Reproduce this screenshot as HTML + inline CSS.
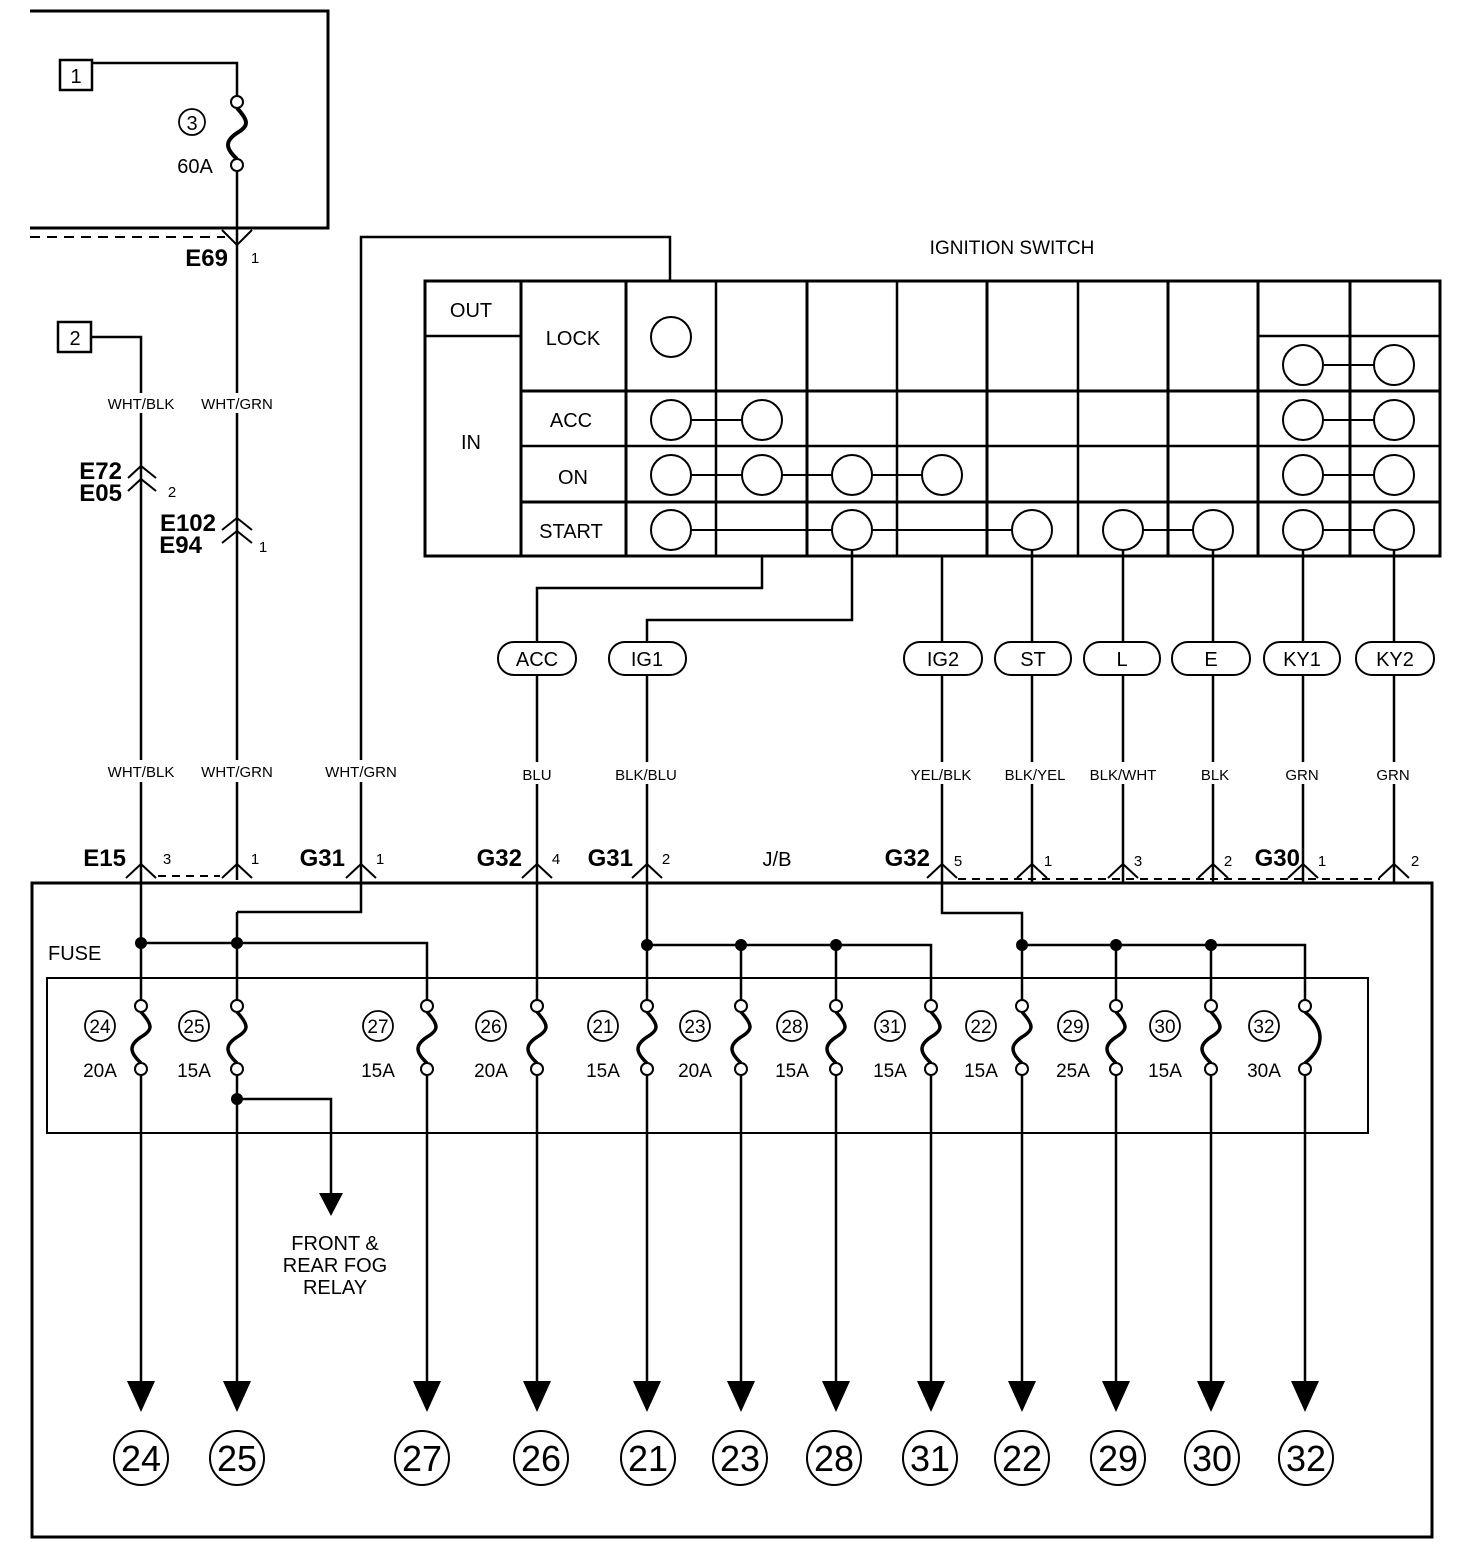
<!DOCTYPE html>
<html><head><meta charset="utf-8"><style>
html,body{margin:0;padding:0;background:#fff}
svg{display:block}
text{font-family:"Liberation Sans",sans-serif;fill:#000}
.b{font-weight:bold;font-size:24px}
.s{font-size:15px}
.m{font-size:20px}
.n{font-size:19px}
</style></head><body>
<svg width="1472" height="1564" viewBox="0 0 1472 1564" xmlns="http://www.w3.org/2000/svg">
<g fill="none" stroke="#000" stroke-width="2.5">
<polyline points="30,11 328,11 328,228 30,228" stroke-width="3"/>
<line x1="30" y1="237" x2="225" y2="237" stroke-dasharray="10,7" stroke-width="2"/>
<rect x="60" y="60" width="32" height="30"/>
<polyline points="92,63 237,63 237,96"/>
<path d="M237,108 C249,121 249,126 237,133 C225,141 225,148 237,159" stroke-width="4"/>
<circle cx="192" cy="122" r="13" stroke-width="1.8"/>
<line x1="237" y1="171" x2="237" y2="393"/>
<line x1="237" y1="413" x2="237" y2="760"/>
<line x1="237" y1="782" x2="237" y2="880"/>
<polyline points="222,230 237,245 252,230" stroke-width="2"/>
<rect x="58" y="322" width="33" height="30"/>
<polyline points="91,337 141,337 141,393"/>
<line x1="141" y1="413" x2="141" y2="760"/>
<line x1="141" y1="782" x2="141" y2="1000"/>
<polyline points="128,478 141,466 156,478" stroke-width="2"/>
<polyline points="128,491 141,479 156,491" stroke-width="2"/>
<polyline points="222,530 237,518 252,530" stroke-width="2"/>
<polyline points="222,543 237,531 252,543" stroke-width="2"/>
<polyline points="361,760 361,237 670,237 670,281"/>
<polyline points="361,782 361,912 237,912"/>
<rect x="425" y="281" width="1015" height="275" stroke-width="3"/>
<line x1="425" y1="336" x2="521" y2="336"/>
<line x1="1258" y1="336" x2="1440" y2="336"/>
<line x1="521" y1="391" x2="1440" y2="391" stroke-width="3"/>
<line x1="521" y1="446" x2="1440" y2="446"/>
<line x1="521" y1="502" x2="1440" y2="502" stroke-width="3"/>
<line x1="521" y1="281" x2="521" y2="556" stroke-width="3"/>
<line x1="626" y1="281" x2="626" y2="556" stroke-width="3"/>
<line x1="716" y1="281" x2="716" y2="556"/>
<line x1="807" y1="281" x2="807" y2="556" stroke-width="3"/>
<line x1="897" y1="281" x2="897" y2="556"/>
<line x1="987" y1="281" x2="987" y2="556" stroke-width="3"/>
<line x1="1078" y1="281" x2="1078" y2="556"/>
<line x1="1168" y1="281" x2="1168" y2="556" stroke-width="3"/>
<line x1="1258" y1="281" x2="1258" y2="556" stroke-width="3"/>
<line x1="1350" y1="281" x2="1350" y2="556" stroke-width="3"/>
<line x1="671" y1="420" x2="762" y2="420" stroke-width="2"/>
<line x1="671" y1="475" x2="942" y2="475" stroke-width="2"/>
<line x1="671" y1="530" x2="1032" y2="530" stroke-width="2"/>
<line x1="1123" y1="530" x2="1213" y2="530" stroke-width="2"/>
<line x1="1303" y1="365" x2="1394" y2="365" stroke-width="2"/>
<line x1="1303" y1="420" x2="1394" y2="420" stroke-width="2"/>
<line x1="1303" y1="475" x2="1394" y2="475" stroke-width="2"/>
<line x1="1303" y1="530" x2="1394" y2="530" stroke-width="2"/>
</g>
<g fill="#fff" stroke="#000" stroke-width="2">
<circle cx="237" cy="102" r="6"/><circle cx="237" cy="165" r="6"/>
<circle cx="671" cy="337" r="20"/>
<circle cx="1303" cy="365" r="20"/><circle cx="1394" cy="365" r="20"/>
<circle cx="671" cy="420" r="20"/><circle cx="762" cy="420" r="20"/><circle cx="1303" cy="420" r="20"/><circle cx="1394" cy="420" r="20"/>
<circle cx="671" cy="475" r="20"/><circle cx="762" cy="475" r="20"/><circle cx="852" cy="475" r="20"/><circle cx="942" cy="475" r="20"/><circle cx="1303" cy="475" r="20"/><circle cx="1394" cy="475" r="20"/>
<circle cx="671" cy="530" r="20"/><circle cx="852" cy="530" r="20"/><circle cx="1032" cy="530" r="20"/><circle cx="1123" cy="530" r="20"/><circle cx="1213" cy="530" r="20"/><circle cx="1303" cy="530" r="20"/><circle cx="1394" cy="530" r="20"/>
</g>
<g fill="none" stroke="#000" stroke-width="2.5">
<polyline points="762,556 762,588 537,588 537,642"/>
<polyline points="852,550 852,620 647,620 647,642"/>
<line x1="942" y1="556" x2="942" y2="642"/>
<line x1="1032" y1="550" x2="1032" y2="642"/>
<line x1="1123" y1="550" x2="1123" y2="642"/>
<line x1="1213" y1="550" x2="1213" y2="642"/>
<line x1="1303" y1="550" x2="1303" y2="642"/>
<line x1="1394" y1="550" x2="1394" y2="642"/>
<rect x="498" y="642" width="78" height="33" rx="16" stroke-width="2"/>
<rect x="609" y="642" width="77" height="33" rx="16" stroke-width="2"/>
<rect x="904" y="642" width="78" height="33" rx="16" stroke-width="2"/>
<rect x="995" y="642" width="76" height="33" rx="16" stroke-width="2"/>
<rect x="1084" y="642" width="76" height="33" rx="16" stroke-width="2"/>
<rect x="1172" y="642" width="78" height="33" rx="16" stroke-width="2"/>
<rect x="1264" y="642" width="76" height="33" rx="16" stroke-width="2"/>
<rect x="1356" y="642" width="78" height="33" rx="16" stroke-width="2"/>
<line x1="537" y1="675" x2="537" y2="762"/><line x1="537" y1="784" x2="537" y2="1000"/>
<line x1="647" y1="675" x2="647" y2="762"/><line x1="647" y1="784" x2="647" y2="1000"/>
<line x1="942" y1="675" x2="942" y2="762"/><polyline points="942,784 942,913 1022,913 1022,1000"/>
<line x1="1032" y1="675" x2="1032" y2="762"/><line x1="1032" y1="784" x2="1032" y2="884"/>
<line x1="1123" y1="675" x2="1123" y2="762"/><line x1="1123" y1="784" x2="1123" y2="884"/>
<line x1="1213" y1="675" x2="1213" y2="762"/><line x1="1213" y1="784" x2="1213" y2="884"/>
<line x1="1303" y1="675" x2="1303" y2="762"/><line x1="1303" y1="784" x2="1303" y2="884"/>
<line x1="1394" y1="675" x2="1394" y2="762"/><line x1="1394" y1="784" x2="1394" y2="884"/>
<g stroke-width="2">
<polyline points="126,878 141,864 156,878"/><polyline points="222,878 237,864 252,878"/>
<polyline points="346,878 361,864 376,878"/><polyline points="522,878 537,864 552,878"/>
<polyline points="632,878 647,864 662,878"/><polyline points="927,878 942,864 957,878"/>
<polyline points="1017,878 1032,864 1047,878"/><polyline points="1108,878 1123,864 1138,878"/>
<polyline points="1198,878 1213,864 1228,878"/><polyline points="1288,878 1303,864 1318,878"/>
<polyline points="1379,878 1394,864 1409,878"/>
<line x1="158" y1="876" x2="220" y2="876" stroke-dasharray="8,6"/>
<line x1="958" y1="879" x2="1380" y2="879" stroke-dasharray="8,6"/>
</g>
<rect x="32" y="883" width="1400" height="654" stroke-width="3"/>
<rect x="47" y="978" width="1321" height="155" stroke-width="2"/>
<polyline points="141,943 427,943 427,1000"/>
<polyline points="647,945 931,945 931,1000"/>
<line x1="741" y1="945" x2="741" y2="1000"/>
<line x1="836" y1="945" x2="836" y2="1000"/>
<polyline points="1022,945 1305,945 1305,1000"/>
<line x1="1116" y1="945" x2="1116" y2="1000"/>
<line x1="1211" y1="945" x2="1211" y2="1000"/>
<line x1="237" y1="912" x2="237" y2="1000"/>
<g stroke-width="3.5">
<path d="M141,1012 c12,13 12,18 0,25 c-12,8 -12,15 0,26"/>
<path d="M237,1012 c12,13 12,18 0,25 c-12,8 -12,15 0,26"/>
<path d="M427,1012 c12,13 12,18 0,25 c-12,8 -12,15 0,26"/>
<path d="M537,1012 c12,13 12,18 0,25 c-12,8 -12,15 0,26"/>
<path d="M647,1012 c12,13 12,18 0,25 c-12,8 -12,15 0,26"/>
<path d="M741,1012 c12,13 12,18 0,25 c-12,8 -12,15 0,26"/>
<path d="M836,1012 c12,13 12,18 0,25 c-12,8 -12,15 0,26"/>
<path d="M931,1012 c12,13 12,18 0,25 c-12,8 -12,15 0,26"/>
<path d="M1022,1012 c12,13 12,18 0,25 c-12,8 -12,15 0,26"/>
<path d="M1116,1012 c12,13 12,18 0,25 c-12,8 -12,15 0,26"/>
<path d="M1211,1012 c12,13 12,18 0,25 c-12,8 -12,15 0,26"/>
<path d="M1305,1012 C1325,1028 1325,1047 1305,1063"/>
</g>
<g stroke-width="2" fill="#fff">
<circle cx="141" cy="1006" r="6"/><circle cx="141" cy="1069" r="6"/>
<circle cx="237" cy="1006" r="6"/><circle cx="237" cy="1069" r="6"/>
<circle cx="427" cy="1006" r="6"/><circle cx="427" cy="1069" r="6"/>
<circle cx="537" cy="1006" r="6"/><circle cx="537" cy="1069" r="6"/>
<circle cx="647" cy="1006" r="6"/><circle cx="647" cy="1069" r="6"/>
<circle cx="741" cy="1006" r="6"/><circle cx="741" cy="1069" r="6"/>
<circle cx="836" cy="1006" r="6"/><circle cx="836" cy="1069" r="6"/>
<circle cx="931" cy="1006" r="6"/><circle cx="931" cy="1069" r="6"/>
<circle cx="1022" cy="1006" r="6"/><circle cx="1022" cy="1069" r="6"/>
<circle cx="1116" cy="1006" r="6"/><circle cx="1116" cy="1069" r="6"/>
<circle cx="1211" cy="1006" r="6"/><circle cx="1211" cy="1069" r="6"/>
<circle cx="1305" cy="1006" r="6"/><circle cx="1305" cy="1069" r="6"/>
</g>
<g stroke-width="1.8">
<circle cx="100" cy="1026" r="15"/><circle cx="194" cy="1026" r="15"/><circle cx="378" cy="1026" r="15"/><circle cx="491" cy="1026" r="15"/><circle cx="603" cy="1026" r="15"/><circle cx="695" cy="1026" r="15"/><circle cx="792" cy="1026" r="15"/><circle cx="890" cy="1026" r="15"/><circle cx="981" cy="1026" r="15"/><circle cx="1073" cy="1026" r="15"/><circle cx="1165" cy="1026" r="15"/><circle cx="1264" cy="1026" r="15"/>
</g>
<line x1="141" y1="1075" x2="141" y2="1383"/><line x1="237" y1="1075" x2="237" y2="1383"/>
<line x1="427" y1="1075" x2="427" y2="1383"/><line x1="537" y1="1075" x2="537" y2="1383"/>
<line x1="647" y1="1075" x2="647" y2="1383"/><line x1="741" y1="1075" x2="741" y2="1383"/>
<line x1="836" y1="1075" x2="836" y2="1383"/><line x1="931" y1="1075" x2="931" y2="1383"/>
<line x1="1022" y1="1075" x2="1022" y2="1383"/><line x1="1116" y1="1075" x2="1116" y2="1383"/>
<line x1="1211" y1="1075" x2="1211" y2="1383"/><line x1="1305" y1="1075" x2="1305" y2="1383"/>
<polyline points="237,1099 331,1099 331,1195"/>
<g stroke-width="2">
<circle cx="141" cy="1458" r="27"/><circle cx="237" cy="1458" r="27"/><circle cx="422" cy="1458" r="27"/><circle cx="541" cy="1458" r="27"/><circle cx="648" cy="1458" r="27"/><circle cx="740" cy="1458" r="27"/><circle cx="834" cy="1458" r="27"/><circle cx="930" cy="1458" r="27"/><circle cx="1022" cy="1458" r="27"/><circle cx="1118" cy="1458" r="27"/><circle cx="1212" cy="1458" r="27"/><circle cx="1306" cy="1458" r="27"/>
</g>
</g>
<g fill="#000">
<circle cx="141" cy="943" r="6"/><circle cx="237" cy="943" r="6"/>
<circle cx="647" cy="945" r="6"/><circle cx="741" cy="945" r="6"/><circle cx="836" cy="945" r="6"/>
<circle cx="1022" cy="945" r="6"/><circle cx="1116" cy="945" r="6"/><circle cx="1211" cy="945" r="6"/>
<circle cx="237" cy="1099" r="6"/>
<polygon points="319,1193 343,1193 331,1216"/>
<polygon points="127,1381 155,1381 141,1412"/><polygon points="223,1381 251,1381 237,1412"/>
<polygon points="413,1381 441,1381 427,1412"/><polygon points="523,1381 551,1381 537,1412"/>
<polygon points="633,1381 661,1381 647,1412"/><polygon points="727,1381 755,1381 741,1412"/>
<polygon points="822,1381 850,1381 836,1412"/><polygon points="917,1381 945,1381 931,1412"/>
<polygon points="1008,1381 1036,1381 1022,1412"/><polygon points="1102,1381 1130,1381 1116,1412"/>
<polygon points="1197,1381 1225,1381 1211,1412"/><polygon points="1291,1381 1319,1381 1305,1412"/>
</g>
<text x="76" y="83" class="m" text-anchor="middle">1</text>
<text x="75" y="345" class="m" text-anchor="middle">2</text>
<text x="192" y="130" class="m" text-anchor="middle">3</text>
<text x="195" y="173" class="m" text-anchor="middle">60A</text>
<text x="228" y="266" class="b" text-anchor="end">E69</text>
<text x="255" y="263" class="s" text-anchor="middle">1</text>
<text x="141" y="409" class="s" text-anchor="middle">WHT/BLK</text>
<text x="237" y="409" class="s" text-anchor="middle">WHT/GRN</text>
<text x="122" y="479" class="b" text-anchor="end">E72</text>
<text x="122" y="501" class="b" text-anchor="end">E05</text>
<text x="172" y="497" class="s" text-anchor="middle">2</text>
<text x="216" y="531" class="b" text-anchor="end">E102</text>
<text x="202" y="553" class="b" text-anchor="end">E94</text>
<text x="263" y="552" class="s" text-anchor="middle">1</text>
<text x="1012" y="254" font-size="19" text-anchor="middle">IGNITION SWITCH</text>
<text x="471" y="317" class="m" text-anchor="middle">OUT</text>
<text x="471" y="449" class="m" text-anchor="middle">IN</text>
<text x="573" y="345" class="m" text-anchor="middle">LOCK</text>
<text x="571" y="427" class="m" text-anchor="middle">ACC</text>
<text x="573" y="484" class="m" text-anchor="middle">ON</text>
<text x="571" y="538" class="m" text-anchor="middle">START</text>
<text x="537" y="666" class="m" text-anchor="middle">ACC</text>
<text x="647" y="666" class="m" text-anchor="middle">IG1</text>
<text x="943" y="666" class="m" text-anchor="middle">IG2</text>
<text x="1033" y="666" class="m" text-anchor="middle">ST</text>
<text x="1122" y="666" class="m" text-anchor="middle">L</text>
<text x="1211" y="666" class="m" text-anchor="middle">E</text>
<text x="1302" y="666" class="m" text-anchor="middle">KY1</text>
<text x="1395" y="666" class="m" text-anchor="middle">KY2</text>
<text x="141" y="777" class="s" text-anchor="middle">WHT/BLK</text>
<text x="237" y="777" class="s" text-anchor="middle">WHT/GRN</text>
<text x="361" y="777" class="s" text-anchor="middle">WHT/GRN</text>
<text x="537" y="780" class="s" text-anchor="middle">BLU</text>
<text x="646" y="780" class="s" text-anchor="middle">BLK/BLU</text>
<text x="941" y="780" class="s" text-anchor="middle">YEL/BLK</text>
<text x="1035" y="780" class="s" text-anchor="middle">BLK/YEL</text>
<text x="1123" y="780" class="s" text-anchor="middle">BLK/WHT</text>
<text x="1215" y="780" class="s" text-anchor="middle">BLK</text>
<text x="1302" y="780" class="s" text-anchor="middle">GRN</text>
<text x="1393" y="780" class="s" text-anchor="middle">GRN</text>
<text x="126" y="866" class="b" text-anchor="end">E15</text>
<text x="167" y="864" class="s" text-anchor="middle">3</text>
<text x="255" y="864" class="s" text-anchor="middle">1</text>
<text x="345" y="866" class="b" text-anchor="end">G31</text>
<text x="380" y="864" class="s" text-anchor="middle">1</text>
<text x="522" y="866" class="b" text-anchor="end">G32</text>
<text x="556" y="864" class="s" text-anchor="middle">4</text>
<text x="633" y="866" class="b" text-anchor="end">G31</text>
<text x="666" y="864" class="s" text-anchor="middle">2</text>
<text x="777" y="866" class="m" text-anchor="middle">J/B</text>
<text x="930" y="866" class="b" text-anchor="end">G32</text>
<text x="958" y="866" class="s" text-anchor="middle">5</text>
<text x="1048" y="866" class="s" text-anchor="middle">1</text>
<text x="1138" y="866" class="s" text-anchor="middle">3</text>
<text x="1228" y="866" class="s" text-anchor="middle">2</text>
<text x="1300" y="866" class="b" text-anchor="end">G30</text>
<text x="1322" y="866" class="s" text-anchor="middle">1</text>
<text x="1415" y="866" class="s" text-anchor="middle">2</text>
<text x="48" y="960" class="m">FUSE</text>
<g class="n" text-anchor="middle">
<text x="100" y="1033">24</text><text x="194" y="1033">25</text><text x="378" y="1033">27</text><text x="491" y="1033">26</text><text x="603" y="1033">21</text><text x="695" y="1033">23</text><text x="792" y="1033">28</text><text x="890" y="1033">31</text><text x="981" y="1033">22</text><text x="1073" y="1033">29</text><text x="1165" y="1033">30</text><text x="1264" y="1033">32</text>
<text x="100" y="1077">20A</text><text x="194" y="1077">15A</text><text x="378" y="1077">15A</text><text x="491" y="1077">20A</text><text x="603" y="1077">15A</text><text x="695" y="1077">20A</text><text x="792" y="1077">15A</text><text x="890" y="1077">15A</text><text x="981" y="1077">15A</text><text x="1073" y="1077">25A</text><text x="1165" y="1077">15A</text><text x="1264" y="1077">30A</text>
</g>
<text x="335" y="1250" class="m" text-anchor="middle">FRONT &amp;</text>
<text x="335" y="1272" class="m" text-anchor="middle">REAR FOG</text>
<text x="335" y="1294" class="m" text-anchor="middle">RELAY</text>
<g font-size="36" text-anchor="middle">
<text x="141" y="1471">24</text><text x="237" y="1471">25</text><text x="422" y="1471">27</text><text x="541" y="1471">26</text><text x="648" y="1471">21</text><text x="740" y="1471">23</text><text x="834" y="1471">28</text><text x="930" y="1471">31</text><text x="1022" y="1471">22</text><text x="1118" y="1471">29</text><text x="1212" y="1471">30</text><text x="1306" y="1471">32</text>
</g>
</svg>
</body></html>
